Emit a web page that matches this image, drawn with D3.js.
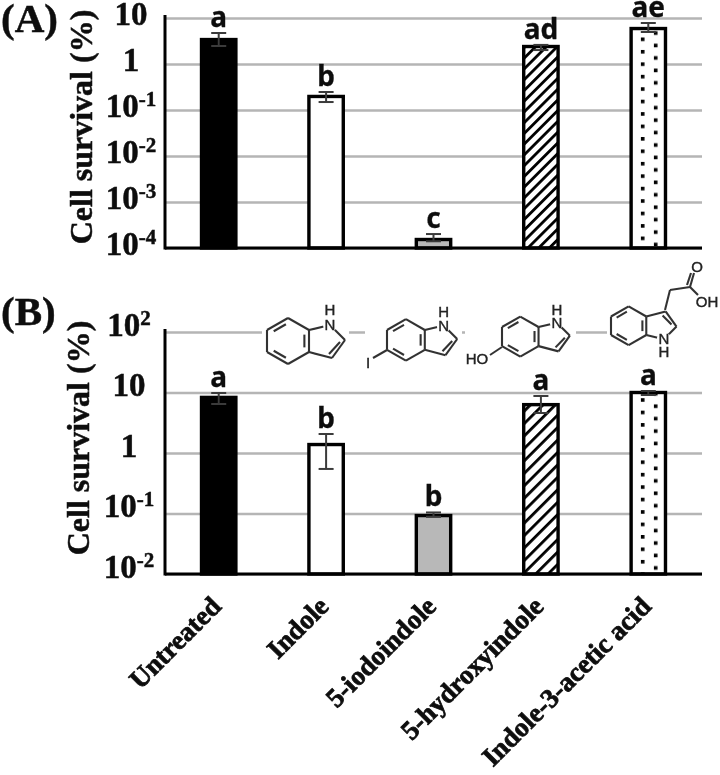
<!DOCTYPE html>
<html>
<head>
<meta charset="utf-8">
<script src="https://cdn.jsdelivr.net/npm/d3@7"></script>
<style>
  html, body { margin: 0; padding: 0; background: #fff; }
  svg { display: block; }
  text { font-family: "Liberation Serif", serif; font-weight: bold; fill: #111; stroke: #111; stroke-width: 0.5px; }
  .letter { font-family: "Noto Sans", sans-serif; font-size: 28px; text-anchor: middle; stroke-width: 0.3px; }
  .atom { font-family: "Liberation Sans", sans-serif; font-weight: normal; font-size: 15px; text-anchor: middle; fill: #222; stroke: #222; stroke-width: 0.4px; }
</style>
</head>
<body>
<div id="chart"></div>
<script>
var categories = ['Untreated', 'Indole', '5-iodoindole', '5-hydroxyindole', 'Indole-3-acetic acid'];
var fills = ['#000', '#fff', '#b8b8b8', 'hatch', 'dots'];

var survivalA = [3.4, 0.197, 0.000153, 2.4, 5.9];
var errHighA = [4.72, 0.246, 0.000201, 2.6, 7.78];
var errLowA = [2.46, 0.149, 0.00014, 2.01, 4.96];
var lettersA = ['a', 'b', 'c', 'ad', 'ae'];
var ticksA = [10, 1, 0.1, 0.01, 0.001, 0.0001];
var tickBaseA = ['10', '1', '10', '10', '10', '10'];
var tickExpA = ['', '', '-1', '-2', '-3', '-4'];

var survivalB = [8.3, 1.38, 0.0925, 6.3, 10];
var errHighB = [9.8, 2.06, 0.104, 8.75, 10.6];
var errLowB = [6.46, 0.545, 0.088, 4.58, 9.1];
var lettersB = ['a', 'b', 'b', 'a', 'a'];
var ticksB = [100, 10, 1, 0.1, 0.01];
var tickBaseB = ['10', '10', '1', '10', '10'];
var tickExpB = ['2', '', '', '-1', '-2'];

var WIDTH = 720;
var HEIGHT = 775;
var LEFT = 165;
var RIGHT = 702;

var svg = d3.select('#chart')
  .append('svg')
    .attr('width', WIDTH)
    .attr('height', HEIGHT);

var defs = svg.append('defs');
defs.append('filter').attr('id', 'soft')
  .attr('x', '-2%').attr('y', '-2%').attr('width', '104%').attr('height', '104%')
  .append('feGaussianBlur').attr('stdDeviation', 0.45);

var root = svg.append('g').attr('filter', 'url(#soft)');

var x = d3.scaleBand()
  .domain(categories)
  .range([LEFT, RIGHT])
  .paddingInner(0.68)
  .paddingOuter(0.34);

function makePatterns(id, dotY, hatchGap) {
  var hatch = defs.append('pattern')
    .attr('id', 'hatch' + id)
    .attr('patternUnits', 'userSpaceOnUse')
    .attr('width', hatchGap).attr('height', hatchGap)
    .attr('patternTransform', 'rotate(-45)');
  hatch.append('rect').attr('width', hatchGap).attr('height', hatchGap).attr('fill', '#fff');
  hatch.append('rect').attr('width', hatchGap).attr('height', 2.8).attr('fill', '#000');

  var dots = defs.append('pattern')
    .attr('id', 'dots' + id)
    .attr('patternUnits', 'userSpaceOnUse')
    .attr('x', x(categories[4]) + x.bandwidth() / 2 - 7.4)
    .attr('y', dotY)
    .attr('width', 26).attr('height', 12.44);
  dots.append('rect').attr('width', 26).attr('height', 12.44).attr('fill', '#fff');
  dots.append('rect').attr('x', 0).attr('y', 0).attr('width', 3.6).attr('height', 3.6).attr('fill', '#000');
  dots.append('rect').attr('x', 13).attr('y', 6.2).attr('width', 3.6).attr('height', 3.6).attr('fill', '#000');
}

function drawPanel(id, p) {
  var g = root.append('g');
  var y = d3.scaleLog().domain(p.domain).range(p.range);
  var bottom = p.range[0];

  makePatterns(id, p.dotY, p.hatchGap);

  var yAxis = d3.axisLeft(y)
    .tickValues(p.ticks)
    .tickSize(LEFT - RIGHT)
    .tickPadding(0)
    .tickFormat(function(d, i) { return p.tickBase[i]; });

  var axisG = g.append('g')
    .attr('class', 'y axis')
    .attr('transform', 'translate(' + LEFT + ',0)')
    .call(yAxis);

  axisG.select('.domain').remove();
  axisG.selectAll('.tick line')
    .attr('stroke', '#b5b5b5')
    .attr('stroke-width', 2.5);
  axisG.selectAll('.tick text')
    .attr('x', p.labelX - LEFT)
    .attr('dy', p.labelDy)
    .style('font-family', '"Liberation Serif", serif')
    .style('font-size', '33px')
    .style('text-anchor', 'middle')
    .each(function(d, i) {
      if (p.tickExp[i]) {
        d3.select(this).append('tspan')
          .attr('dy', -11)
          .style('font-size', '21px')
          .text(p.tickExp[i]);
      }
    });

  // white boxes behind the structures
  (p.masks || []).forEach(function(m) {
    g.append('rect').attr('x', m[0]).attr('y', y(p.domain[1]) - 6)
      .attr('width', m[1] - m[0]).attr('height', 12).attr('fill', '#fff');
  });

  g.selectAll('.bar')
    .data(categories)
    .enter().append('rect')
      .attr('class', 'bar')
      .attr('x', function(d) { return x(d); })
      .attr('width', x.bandwidth())
      .attr('y', function(d, i) { return y(p.values[i]); })
      .attr('height', function(d, i) { return bottom - y(p.values[i]); })
      .attr('fill', function(d, i) {
        var f = fills[i];
        return (f === 'hatch' || f === 'dots') ? 'url(#' + f + id + ')' : f;
      })
      .attr('stroke', '#000')
      .attr('stroke-width', 3.4);

  var cap = 7.5;
  var err = g.selectAll('.err')
    .data(categories)
    .enter().append('g')
      .attr('class', 'err')
      .attr('transform', function(d) { return 'translate(' + (x(d) + x.bandwidth() / 2) + ',0)'; })
      .attr('stroke', '#3a3a3a')
      .attr('stroke-width', 2);
  err.append('line')
    .attr('y1', function(d, i) { return y(p.low[i]); })
    .attr('y2', function(d, i) { return y(p.high[i]); });
  err.append('line').attr('x1', -cap).attr('x2', cap)
    .attr('y1', function(d, i) { return y(p.high[i]); })
    .attr('y2', function(d, i) { return y(p.high[i]); });
  err.append('line').attr('x1', -cap).attr('x2', cap)
    .attr('y1', function(d, i) { return y(p.low[i]); })
    .attr('y2', function(d, i) { return y(p.low[i]); });

  g.selectAll('.letter')
    .data(p.letters)
    .enter().append('text')
      .attr('class', 'letter')
      .attr('x', function(d, i) { return x(categories[i]) + x.bandwidth() / 2; })
      .attr('y', function(d, i) { return y(p.high[i]) - 6; })
      .text(function(d) { return d; });

  // spine and baseline
  g.append('line')
    .attr('x1', LEFT).attr('x2', LEFT)
    .attr('y1', y(p.domain[1]) - 3).attr('y2', bottom + 1.5)
    .attr('stroke', '#000').attr('stroke-width', 3);
  g.append('line')
    .attr('x1', LEFT).attr('x2', RIGHT)
    .attr('y1', bottom).attr('y2', bottom)
    .attr('stroke', '#000').attr('stroke-width', 3);

  g.append('text')
    .attr('transform', 'translate(' + p.titleX + ',' + p.titleY + ') rotate(-90)')
    .attr('text-anchor', 'middle')
    .style('font-size', '32px')
    .text('Cell survival (%)');

  g.append('text')
    .attr('x', 1).attr('y', p.tagY)
    .style('font-size', '41px')
    .text(p.tag);
}

drawPanel('A', {
  domain: [0.0001, 10], range: [248, 18], dotY: 37.5, hatchGap: 7.6,
  ticks: ticksA, tickBase: tickBaseA, tickExp: tickExpA,
  values: survivalA, high: errHighA, low: errLowA, letters: lettersA,
  labelX: 131, labelDy: 6, titleX: 92, titleY: 127, tag: '(A)', tagY: 32
});

drawPanel('B', {
  domain: [0.01, 100], range: [574, 332], dotY: 398.2, hatchGap: 8.8,
  ticks: ticksB, tickBase: tickBaseB, tickExp: tickExpB,
  values: survivalB, high: errHighB, low: errLowB, letters: lettersB,
  labelX: 129, labelDy: 3, titleX: 89, titleY: 438, tag: '(B)', tagY: 325,
  masks: [[262, 349], [365, 462], [465, 576], [607, 720]]
});

// x labels end just right of each bar centre
var xLabels = d3.scalePoint()
  .domain(categories)
  .range([222, 652]);

var xAxis = d3.axisBottom(xLabels).tickSize(0).tickPadding(0);
var labelG = root.append('g')
  .attr('class', 'x axis')
  .attr('transform', 'translate(0,608)')
  .call(xAxis);
labelG.select('.domain').remove();
labelG.selectAll('.tick text')
  .attr('y', 0).attr('dy', 0)
  .attr('transform', 'rotate(-45)')
  .style('font-family', '"Liberation Serif", serif')
  .style('font-size', '27px')
  .style('stroke-width', '0.8px')
  .style('text-anchor', 'end');

// indole ring, a is the left upper corner of the six-ring, s scales it, flip=-1 turns it upside down
function indole(ox, oy, s, flip) {
  var P = {
    a: [0, 0], b: [21, -12], c: [42, 0], d: [42, 22], e: [21, 34], f: [0, 22],
    n: [63, -5], g: [78, 10], h: [65, 28]
  };
  var pt = function(k) { return [ox + s * P[k][0], oy + flip * s * P[k][1]]; };
  var mol = root.append('g').attr('stroke', '#333').attr('stroke-width', 2.1).attr('fill', 'none');
  var bonds = [['a', 'b'], ['b', 'c'], ['c', 'd'], ['d', 'e'], ['e', 'f'], ['f', 'a'], ['c', 'n'], ['n', 'g'], ['g', 'h'], ['h', 'd']];
  bonds.forEach(function(b) {
    var p = pt(b[0]), q = pt(b[1]);
    mol.append('line').attr('x1', p[0]).attr('y1', p[1]).attr('x2', q[0]).attr('y2', q[1]);
  });
  // inner lines of the double bonds
  var cx = ox + s * 21, cy = oy + flip * s * 11;
  [['a', 'b'], ['c', 'd'], ['e', 'f']].forEach(function(b) {
    var p = pt(b[0]), q = pt(b[1]);
    mol.append('line')
      .attr('x1', cx + (p[0] - cx) * 0.78 + (q[0] - p[0]) * 0.1)
      .attr('y1', cy + (p[1] - cy) * 0.78 + (q[1] - p[1]) * 0.1)
      .attr('x2', cx + (q[0] - cx) * 0.78 - (q[0] - p[0]) * 0.1)
      .attr('y2', cy + (q[1] - cy) * 0.78 - (q[1] - p[1]) * 0.1);
  });
  var g1 = pt('g'), h1 = pt('h');
  mol.append('line').attr('x1', g1[0] - 5).attr('y1', g1[1] + flip * 2).attr('x2', h1[0] - 3).attr('y2', h1[1] - flip * 4);

  var n = pt('n');
  root.append('circle').attr('cx', n[0]).attr('cy', n[1]).attr('r', 7).attr('fill', '#fff');
  atom('N', n[0], n[1]);
  atom('H', n[0], n[1] - flip * 15 * s);
  return mol;
}

function bond(mol, a, b) {
  mol.append('line').attr('x1', a[0]).attr('y1', a[1]).attr('x2', b[0]).attr('y2', b[1]);
}
function atom(t, px, py) {
  root.append('text').attr('class', 'atom').attr('x', px).attr('y', py + 5).text(t);
}

indole(267, 330, 1, 1);

var m2 = indole(387, 330, 0.9, 1);
bond(m2, [387, 350], [373, 358]);
atom('I', 368, 363);

var m3 = indole(502, 327, 0.87, 1);
bond(m3, [502, 347], [490, 355]);
atom('HO', 477, 359);

var m4 = indole(611, 335, 0.84, -1);
bond(m4, [665, 310], [670, 290]);
bond(m4, [670, 290], [690, 287]);
bond(m4, [690, 287], [694, 273]);
bond(m4, [687, 285], [691, 273]);
bond(m4, [690, 287], [698, 295]);
atom('O', 697, 267);
atom('OH', 707, 302);
</script>
</body>
</html>
